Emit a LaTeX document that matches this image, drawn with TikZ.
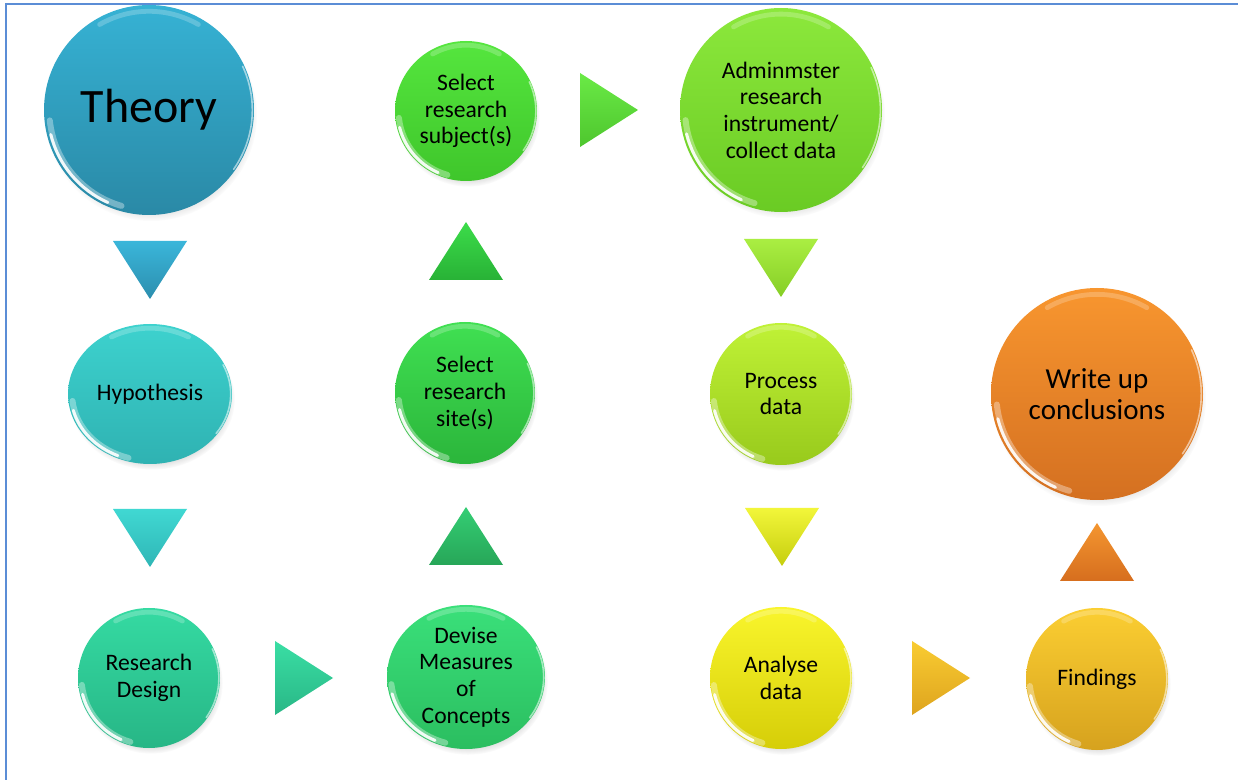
\documentclass[tikz,border=0pt]{standalone}
\usepackage{fontspec}
\setmainfont{Carlito}
\usetikzlibrary{shapes.geometric,shadows,calc,shadings}

% colour pairs (top / bottom) for the glossy bubbles and the arrow triangles
\definecolor{frameblue}{HTML}{5B8DD6}
\definecolor{theoryT}{HTML}{36B2D4}\definecolor{theoryB}{HTML}{2A89A6}
\definecolor{hypT}{HTML}{3DD2CE}\definecolor{hypB}{HTML}{2FB2B2}
\definecolor{designT}{HTML}{35DAA2}\definecolor{designB}{HTML}{27B686}
\definecolor{deviseT}{HTML}{3AE07A}\definecolor{deviseB}{HTML}{2BBE60}
\definecolor{siteT}{HTML}{40E052}\definecolor{siteB}{HTML}{2BB53B}
\definecolor{subjT}{HTML}{55E63E}\definecolor{subjB}{HTML}{3FC62B}
\definecolor{adminT}{HTML}{8CE83C}\definecolor{adminB}{HTML}{6ACB24}
\definecolor{procT}{HTML}{C0F236}\definecolor{procB}{HTML}{98CA1C}
\definecolor{analyseT}{HTML}{F9F52C}\definecolor{analyseB}{HTML}{D6CE08}
\definecolor{findT}{HTML}{FBCE32}\definecolor{findB}{HTML}{D6A21E}
\definecolor{writeT}{HTML}{F8962F}\definecolor{writeB}{HTML}{D47021}
\definecolor{triaT}{HTML}{3AB6DA}\definecolor{triaB}{HTML}{2C8EAE}
\definecolor{tribT}{HTML}{40D8D2}\definecolor{tribB}{HTML}{2FB6B6}
\definecolor{tricT}{HTML}{3ADEA4}\definecolor{tricB}{HTML}{29B786}
\definecolor{tridT}{HTML}{34CE74}\definecolor{tridB}{HTML}{27A658}
\definecolor{trieT}{HTML}{3CDC4A}\definecolor{trieB}{HTML}{28B236}
\definecolor{trifT}{HTML}{6AEA46}\definecolor{trifB}{HTML}{4EC62E}
\definecolor{trigT}{HTML}{AAEE42}\definecolor{trigB}{HTML}{86CE26}
\definecolor{trihT}{HTML}{F2F63A}\definecolor{trihB}{HTML}{C6CE0E}
\definecolor{triiT}{HTML}{F9CC32}\definecolor{triiB}{HTML}{DEA41E}
\definecolor{trijT}{HTML}{F49630}\definecolor{trijB}{HTML}{D66E1E}

\tikzset{
  bubblebox/.style={ellipse, inner sep=0pt, align=center, text=black,
    font=\fontsize{11.8}{13.3}\selectfont,
    circular drop shadow={shadow xshift=1pt, shadow yshift=-2.5pt,
      shadow scale=1.01, opacity=.35}},
  bigtext/.style={font=\fontsize{24}{28}\selectfont},
  midtext/.style={font=\fontsize{14.5}{15.5}\selectfont},
  sheen/.style={white, line cap=round},
  tribox/.style={drop shadow={shadow xshift=1pt, shadow yshift=-2pt, opacity=.25}},
  pics/tridown/.style={code={\path[pic actions] (-37,29) -- (37,29) -- (0,-29) -- cycle;}},
  pics/triup/.style={code={\path[pic actions] (-37,-29) -- (37,-29) -- (0,29) -- cycle;}},
  pics/triright/.style={code={\path[pic actions] (-29,37) -- (29,0) -- (-29,-37) -- cycle;}},
}

% one elliptical arc of light inside a bubble: name, rx, ry (pt), start, end, style
\newcommand\glossarc[6]{%
  \draw[#6] ($(#1.center)+(#4:{#2} and {#3})$)
    arc[start angle=#4, end angle=#5, x radius=#2, y radius=#3];}

% glossy bubble: name, x, y (downwards), rx, ry, colour stem, extra style, text
\newcommand\bubble[8]{%
  \node[bubblebox, #7, minimum width=#4pt, minimum height=#5pt,
        top color=#6T, bottom color=#6B] (#1) at (#2,-#3) {#8};
  \glossarc{#1}{0.47*#4pt}{0.47*#5pt}{60}{120}{sheen, opacity=.22, line width=2.4pt}
  \glossarc{#1}{0.475*#4pt}{0.475*#5pt}{186}{254}{sheen, opacity=.35, line width=3pt}
  \glossarc{#1}{0.482*#4pt}{0.482*#5pt}{194}{246}{sheen, opacity=.9, line width=1.5pt}
  \glossarc{#1}{0.492*#4pt}{0.492*#5pt}{-35}{25}{sheen, opacity=.55, line width=.8pt}
}

\begin{document}
\begin{tikzpicture}[x=0.5pt, y=0.5pt]
  \useasboundingbox (0,0) rectangle (1238,-780);
  \fill[white] (0,0) rectangle (1238,-780);

  % frame
  \draw[frameblue, line width=1.1pt] (6,-780) -- (6,-4) -- (1238,-4);

  % bubbles
  \bubble{theory}{149}{110}{105}{105}{theory}{bigtext}{Theory}
  \bubble{hyp}{150}{394}{82}{70}{hyp}{}{Hypothesis}
  \bubble{design}{149}{678}{71}{70}{design}{}{Research\\Design}
  \bubble{devise}{466}{677}{79}{72}{devise}{}{Devise\\Measures\\of\\Concepts}
  \bubble{site}{465}{393}{70}{71}{site}{}{Select\\research\\site(s)}
  \bubble{subj}{466}{111}{71}{70}{subj}{}{Select\\research\\subject(s)}
  \bubble{admin}{781}{110}{101}{102}{admin}{}{Adminmster\\research\\instrument/\\collect data}
  \bubble{proc}{781}{394}{71}{71}{proc}{}{Process\\data}
  \bubble{analyse}{781}{678}{71}{71}{analyse}{}{Analyse\\data}
  \bubble{find}{1097}{679}{71}{71}{find}{}{Findings}
  \bubble{write}{1097}{394}{106}{106}{write}{midtext}{Write up\\conclusions}

  % arrow triangles between the steps
  \coordinate (ta) at (150,-270);
  \coordinate (tb) at (150,-538);
  \coordinate (tc) at (304,-678);
  \coordinate (td) at (466,-536);
  \coordinate (te) at (466,-251);
  \coordinate (tf) at (609,-110);
  \coordinate (tg) at (781,-268);
  \coordinate (th) at (782,-537);
  \coordinate (ti) at (941,-678);
  \coordinate (tj) at (1097,-552);

  \pic[tribox, top color=triaT, bottom color=triaB] at (ta) {tridown};
  \pic[tribox, top color=tribT, bottom color=tribB] at (tb) {tridown};
  \pic[tribox, top color=tricT, bottom color=tricB] at (tc) {triright};
  \pic[tribox, top color=tridT, bottom color=tridB] at (td) {triup};
  \pic[tribox, top color=trieT, bottom color=trieB] at (te) {triup};
  \pic[tribox, top color=trifT, bottom color=trifB] at (tf) {triright};
  \pic[tribox, top color=trigT, bottom color=trigB] at (tg) {tridown};
  \pic[tribox, top color=trihT, bottom color=trihB] at (th) {tridown};
  \pic[tribox, top color=triiT, bottom color=triiB] at (ti) {triright};
  \pic[tribox, top color=trijT, bottom color=trijB] at (tj) {triup};
\end{tikzpicture}
\end{document}
